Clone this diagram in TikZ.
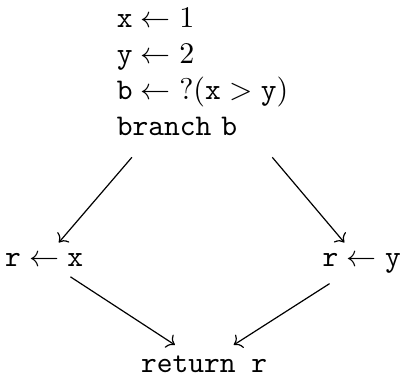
\documentclass[tikz,border=0pt]{standalone}
\usepackage{tikz}
\usetikzlibrary{arrows.meta, positioning, calc}
\tikzset{
  stmt/.style={
    rectangle, inner sep=0.333em, anchor=base
  },
  flow/.style={
    -To, line width=0.4pt, color=black
  }
}

\begin{document}
\begin{tikzpicture}[
  block/.style={rectangle, inner sep=0.333em},
]
  \useasboundingbox (0,0) rectangle (4.72,-4.405);

  % Blocks
  \node[block] (entry) at (2.373,-0.875) {%
    \begin{tabular}{l}
      $\texttt{x} \leftarrow 1$\\
      $\texttt{y} \leftarrow 2$\\
      $\texttt{b} \leftarrow {?}(\texttt{x} > \texttt{y})$\\
      \texttt{branch} \texttt{b}
    \end{tabular}};
  \node[stmt] (thn) at (0.517,-3.118) {$\texttt{r} \leftarrow \texttt{x}$};
  \node[stmt] (els) at (4.236,-3.118) {$\texttt{r} \leftarrow \texttt{y}$};
  \node[stmt] (exit) at (2.390,-4.359) {\texttt{return r}};

  % Edges
  \draw[flow] (entry) -- (thn);
  \draw[flow] (entry) -- (els);
  \draw[flow] (thn) -- (exit);
  \draw[flow] (els) -- (exit);

\end{tikzpicture}
\end{document}
